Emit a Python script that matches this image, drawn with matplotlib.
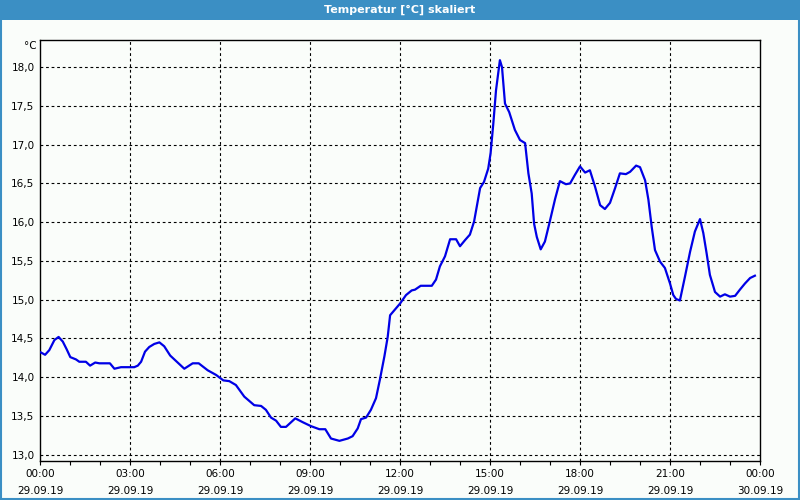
import matplotlib.pyplot as plt
from matplotlib.patches import Rectangle
from matplotlib.lines import Line2D

# Messzeit in Stunden ab 29.09.19 00:00
hours = [0.03, 0.17, 0.31, 0.48, 0.62, 0.76, 0.89, 1.01, 1.2, 1.31, 1.53, 1.67, 1.84, 1.98,
         2.33, 2.48, 2.7, 3.14, 3.26, 3.37, 3.5, 3.64, 3.81, 3.98, 4.14, 4.34, 4.59, 4.81,
         5.09, 5.29, 5.59, 5.87, 6.11, 6.31, 6.53, 6.81, 7.14, 7.37, 7.53, 7.7, 7.87, 8.03,
         8.2, 8.51, 8.76, 9.03, 9.31, 9.51, 9.7, 9.98, 10.26, 10.42, 10.59, 10.7, 10.87,
         11.03, 11.2, 11.33, 11.48, 11.59, 11.67, 12.0, 12.2, 12.39, 12.5, 12.69, 13.06,
         13.2, 13.33, 13.5, 13.67, 13.87, 14.0, 14.17, 14.33, 14.47, 14.67, 14.8, 14.94,
         15.02, 15.11, 15.2, 15.33, 15.4, 15.5, 15.64, 15.83, 16.0, 16.17, 16.28, 16.39,
         16.47, 16.56, 16.69, 16.83, 17.0, 17.17, 17.33, 17.53, 17.67, 17.83, 18.0, 18.17,
         18.33, 18.5, 18.67, 18.83, 19.0, 19.17, 19.33, 19.53, 19.67, 19.87, 20.0, 20.17,
         20.28, 20.39, 20.5, 20.67, 20.83, 21.0, 21.11, 21.2, 21.33, 21.5, 21.67, 21.83,
         22.0, 22.11, 22.22, 22.33, 22.5, 22.67, 22.83, 23.0, 23.17, 23.33, 23.5, 23.67,
         23.83]
temps = [14.32, 14.29, 14.35, 14.48, 14.52, 14.46, 14.36, 14.26, 14.23, 14.20, 14.20, 14.15,
         14.19, 14.18, 14.18, 14.11, 14.13, 14.13, 14.15, 14.20, 14.33, 14.39, 14.43, 14.45,
         14.40, 14.28, 14.19, 14.11, 14.18, 14.18, 14.09, 14.03, 13.96, 13.95, 13.90, 13.75,
         13.64, 13.63, 13.58, 13.48, 13.44, 13.36, 13.36, 13.47, 13.42, 13.37, 13.33, 13.33,
         13.21, 13.18, 13.21, 13.24, 13.34, 13.46, 13.48, 13.58, 13.73, 13.97, 14.27, 14.52,
         14.80, 14.95, 15.06, 15.12, 15.13, 15.18, 15.18, 15.26, 15.43, 15.56, 15.78, 15.78,
         15.69, 15.77, 15.84, 16.01, 16.44, 16.52, 16.69, 16.89, 17.27, 17.70, 18.09, 18.00,
         17.53, 17.42, 17.19, 17.06, 17.02, 16.63, 16.37, 15.98, 15.81, 15.65, 15.75, 16.02,
         16.30, 16.53, 16.49, 16.50, 16.61, 16.72, 16.64, 16.67, 16.46, 16.22, 16.17, 16.25,
         16.44, 16.63, 16.62, 16.65, 16.73, 16.71, 16.54, 16.29, 15.94, 15.64, 15.49, 15.41,
         15.21, 15.06, 15.01, 14.99, 15.30, 15.62, 15.88, 16.04, 15.86, 15.60, 15.32, 15.10,
         15.04, 15.07, 15.04, 15.05, 15.13, 15.21, 15.28, 15.31]

x_ticks = [0, 3, 6, 9, 12, 15, 18, 21, 24]
x_labels = ["00:00\n29.09.19", "03:00\n29.09.19", "06:00\n29.09.19", "09:00\n29.09.19",
            "12:00\n29.09.19", "15:00\n29.09.19", "18:00\n29.09.19", "21:00\n29.09.19",
            "00:00\n30.09.19"]
y_ticks = [13.0, 13.5, 14.0, 14.5, 15.0, 15.5, 16.0, 16.5, 17.0, 17.5, 18.0]

bg = '#fafdfa'
frame_blue = '#3b8fc4'

fig = plt.figure(figsize=(8, 5), dpi=100, facecolor=bg)

# Titelleiste und Rahmen
fig.patches.append(Rectangle((0, 0.96), 1, 0.04, transform=fig.transFigure,
                             facecolor=frame_blue, edgecolor='none', zorder=0))
fig.text(0.5, 0.98, "Temperatur [°C] skaliert", color='white', fontsize=8,
         fontweight='bold', ha='center', va='center')
for xs, ys in [([0.0012, 0.0012], [0, 1]), ([0.9988, 0.9988], [0, 1]), ([0, 1], [0.002, 0.002])]:
    fig.lines.append(Line2D(xs, ys, transform=fig.transFigure, color=frame_blue, lw=1.5))

ax = fig.add_axes([0.05, 0.078, 0.90, 0.842])
ax.set_facecolor(bg)
ax.plot(hours, temps, color='#0000e6', linewidth=1.6, zorder=3)

ax.set_xlim(0, 24)
ax.set_ylim(12.92, 18.35)
ax.set_xticks(x_ticks)
ax.set_xticklabels(x_labels, fontsize=7.5, linespacing=1.85)
ax.set_xticks(range(0, 25), minor=True)
ax.set_yticks(y_ticks)
ax.set_yticklabels([f"{v:.1f}".replace('.', ',') for v in y_ticks], fontsize=7.5)
ax.tick_params(axis='x', which='both', direction='out', length=3, width=0.8, pad=3)
ax.tick_params(axis='y', length=0, pad=4)

for v in y_ticks:
    ax.axhline(v, color='black', lw=0.8, linestyle=(0, (2.5, 2.5)), zorder=1)
for v in x_ticks[1:-1]:
    ax.axvline(v, color='black', lw=0.8, linestyle=(0, (2.5, 2.5)), zorder=1)

for s in ax.spines.values():
    s.set_linewidth(1.0)
    s.set_color('black')

ax.text(-0.005, 0.985, "°C", transform=ax.transAxes, fontsize=7.5, ha='right', va='center')

fig.savefig("out.png", dpi=100, facecolor=bg)
